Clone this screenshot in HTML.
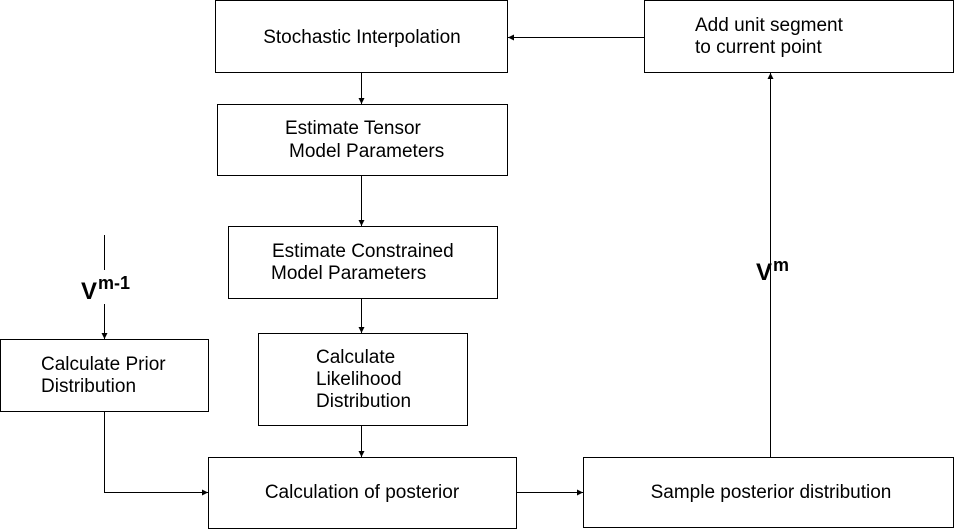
<!DOCTYPE html>
<html><head><style>body{margin:0;background:#fff}svg{display:block}text{font-family:"Liberation Sans",Arial,sans-serif;font-size:19px;fill:#000}</style></head>
<body>
<svg width="961" height="530" viewBox="0 0 961 530">
<defs><marker id="a" markerWidth="6" markerHeight="6" refX="6" refY="3" orient="auto" markerUnits="userSpaceOnUse"><path d="M0,0 L6,3 L0,6 z" fill="#000"/></marker></defs>
<g fill="#fff" stroke="#000" stroke-width="1">
<rect x="215.5" y="0.5" width="292" height="72"/>
<rect x="644.5" y="0.5" width="309" height="72"/>
<rect x="217.5" y="104.5" width="290" height="71"/>
<rect x="228.5" y="226.5" width="269" height="72"/>
<rect x="258.5" y="333.5" width="209" height="92"/>
<rect x="0.5" y="339.5" width="208" height="72"/>
<rect x="208.5" y="457.5" width="308" height="71"/>
<rect x="583.5" y="457.5" width="370" height="70"/>
</g>
<g stroke="#000" fill="none" stroke-width="1">
<line x1="361.5" y1="72" x2="361.5" y2="104" marker-end="url(#a)"/>
<line x1="361.5" y1="176" x2="361.5" y2="226" marker-end="url(#a)"/>
<line x1="361.5" y1="299" x2="361.5" y2="333" marker-end="url(#a)"/>
<line x1="361.5" y1="426" x2="361.5" y2="457" marker-end="url(#a)"/>
<line x1="104.5" y1="235" x2="104.5" y2="270"/>
<line x1="104.5" y1="304" x2="104.5" y2="339" marker-end="url(#a)"/>
<polyline points="104.5,412 104.5,492.5 208,492.5" marker-end="url(#a)"/>
<line x1="517" y1="492.5" x2="583" y2="492.5" marker-end="url(#a)"/>
<line x1="770.5" y1="457" x2="770.5" y2="73" marker-end="url(#a)"/>
<line x1="644" y1="37.5" x2="508" y2="37.5" marker-end="url(#a)"/>
</g>
<text x="362" y="43" text-anchor="middle">Stochastic Interpolation</text>
<text x="695" y="31">Add unit segment</text>
<text x="695" y="53">to current point</text>
<text x="285" y="134">Estimate Tensor</text>
<text x="289" y="157">Model Parameters</text>
<text x="272" y="257">Estimate Constrained</text>
<text x="271" y="279">Model Parameters</text>
<text x="316" y="363">Calculate</text>
<text x="316" y="385">Likelihood</text>
<text x="316" y="407">Distribution</text>
<text x="41" y="370">Calculate Prior</text>
<text x="41" y="392">Distribution</text>
<text x="362" y="498" text-anchor="middle">Calculation of posterior</text>
<text x="771" y="498" text-anchor="middle">Sample posterior distribution</text>
<text x="81" y="299" style="font-size:24px;font-weight:bold">V</text>
<text x="98" y="289" style="font-size:18px;font-weight:bold">m-1</text>
<text x="756" y="280" style="font-size:24px;font-weight:bold">V</text>
<text x="773" y="271" style="font-size:18px;font-weight:bold">m</text>
</svg>
</body></html>
